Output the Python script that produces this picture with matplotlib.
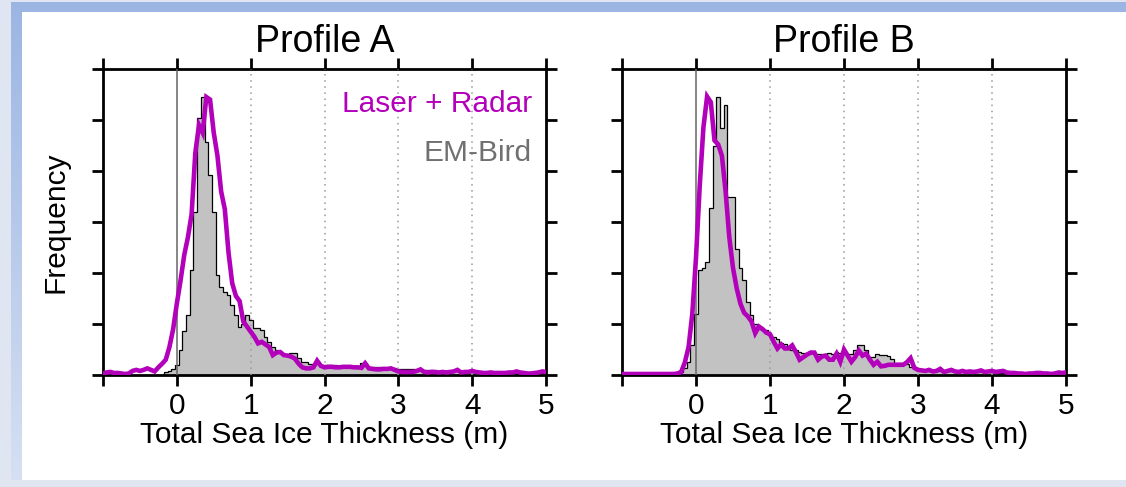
import numpy as np
import matplotlib
matplotlib.use("Agg")
import matplotlib.pyplot as plt
from matplotlib.patches import Rectangle

plt.rcParams['font.family'] = ['Liberation Sans', 'DejaVu Sans']

# bin width (m) used for both the histograms and the line samples
BW = 0.05

# ---- Profile A ----
hist_a_start = -0.15
hist_a = [0.05, 0.08, 0.12, 0.2, 0.49, 0.86, 1.18, 2.06, 3.2, 5.04,
          5.46, 4.57, 3.92, 3.2, 1.96, 1.73, 1.63, 1.56, 1.37, 1.18,
          0.95, 1.0, 1.18, 1.08, 0.92, 0.92, 0.89, 0.75, 0.65, 0.55,
          0.49, 0.45, 0.39, 0.39, 0.43, 0.43, 0.33, 0.26, 0.25, 0.22,
          0.22, 0.22, 0.2, 0.2, 0.2, 0.2, 0.19, 0.18, 0.18, 0.18,
          0.18, 0.18, 0.18, 0.23, 0.23, 0.15, 0.15, 0.15, 0.15, 0.14,
          0.14, 0.14, 0.13, 0.11, 0.11, 0.11, 0.11, 0.11, 0.1, 0.1,
          0.09, 0.09, 0.09, 0.08, 0.08, 0.08, 0.08, 0.07, 0.07, 0.07,
          0.07, 0.06, 0.06, 0.06, 0.06, 0.05, 0.05, 0.05, 0.05, 0.05,
          0.05, 0.04, 0.04, 0.04, 0.04, 0.04, 0.04, 0.03, 0.03, 0.03,
          0.03, 0.03, 0.03, 0.03]

line_a_start = -1.0
line_a = [0.03, 0.05, 0.06, 0.04, 0.04, 0.03, 0.02, 0.03, 0.08, 0.1,
          0.08, 0.1, 0.13, 0.1, 0.07, 0.15, 0.22, 0.3, 0.55, 0.9,
          1.4, 1.85, 2.35, 2.7, 3.15, 4.35, 4.9, 4.75, 5.45, 5.4,
          4.75, 4.3, 3.6, 3.25, 2.4, 1.8, 1.55, 1.45, 1.05, 0.95,
          0.85, 0.75, 0.62, 0.65, 0.6, 0.55, 0.39, 0.44, 0.45, 0.39,
          0.38, 0.36, 0.32, 0.22, 0.15, 0.13, 0.13, 0.15, 0.28, 0.18,
          0.15, 0.16, 0.16, 0.15, 0.15, 0.16, 0.16, 0.16, 0.15, 0.15,
          0.14, 0.23, 0.13, 0.12, 0.11, 0.11, 0.12, 0.12, 0.13, 0.1,
          0.07, 0.06, 0.06, 0.06, 0.06, 0.08, 0.11, 0.06, 0.05, 0.06,
          0.06, 0.05, 0.06, 0.05, 0.06, 0.07, 0.1, 0.05, 0.06, 0.06,
          0.08, 0.06, 0.05, 0.04, 0.04, 0.05, 0.04, 0.04, 0.04, 0.04,
          0.05, 0.05, 0.07, 0.05, 0.04, 0.03, 0.03, 0.04, 0.05, 0.07,
          0.06]

# ---- Profile B ----
hist_b_start = -0.20
hist_b = [0.05, 0.13, 0.26, 0.59, 1.2, 2.06, 2.09, 2.22, 3.27, 4.5,
          5.46, 4.84, 5.29, 3.5, 3.5, 2.48, 2.09, 1.86, 1.44, 1.18,
          1.0, 0.9, 0.88, 0.88, 0.78, 0.75, 0.7, 0.62, 0.6, 0.55,
          0.5, 0.49, 0.45, 0.44, 0.44, 0.44, 0.42, 0.41, 0.42, 0.42,
          0.43, 0.42, 0.45, 0.44, 0.42, 0.42, 0.42, 0.5, 0.59, 0.59,
          0.5, 0.35, 0.35, 0.42, 0.39, 0.39, 0.38, 0.32, 0.23, 0.23,
          0.23, 0.22, 0.16, 0.15, 0.1, 0.09, 0.09, 0.08, 0.08, 0.08,
          0.07, 0.07, 0.07, 0.07, 0.06, 0.06, 0.06, 0.06, 0.06, 0.05,
          0.05, 0.05, 0.05, 0.05, 0.05, 0.04, 0.04, 0.04, 0.04, 0.04,
          0.04, 0.04, 0.03, 0.03, 0.03, 0.03, 0.03, 0.03, 0.03, 0.03,
          0.03, 0.03, 0.03, 0.03, 0.03]

line_b_start = -1.0
line_b = [0.02, 0.02, 0.02, 0.02, 0.02, 0.02, 0.02, 0.02, 0.02, 0.02,
          0.02, 0.02, 0.02, 0.02, 0.02, 0.03, 0.06, 0.25, 0.55, 1.2,
          2.3, 3.7, 4.85, 5.46, 5.35, 4.6, 4.52, 4.3, 3.6, 2.7,
          2.1, 1.7, 1.4, 1.22, 1.15, 1.05, 0.82, 0.95, 0.9, 0.83,
          0.8, 0.65, 0.52, 0.6, 0.52, 0.52, 0.58, 0.45, 0.3, 0.35,
          0.4, 0.44, 0.44, 0.3, 0.36, 0.38, 0.3, 0.3, 0.42, 0.26,
          0.5, 0.38, 0.26, 0.35, 0.48, 0.38, 0.42, 0.3, 0.2, 0.26,
          0.17, 0.18, 0.2, 0.2, 0.2, 0.2, 0.2, 0.25, 0.33, 0.14,
          0.1, 0.09, 0.08, 0.1, 0.07, 0.08, 0.12, 0.06, 0.08, 0.1,
          0.07, 0.06, 0.08, 0.06, 0.07, 0.06, 0.07, 0.09, 0.06, 0.07,
          0.08, 0.06, 0.07, 0.08, 0.05, 0.04, 0.04, 0.03, 0.03, 0.02,
          0.03, 0.03, 0.04, 0.04, 0.03, 0.03, 0.02, 0.03, 0.05, 0.04,
          0.05]

titles = ["Profile A", "Profile B"]
x_ticks = [-1, 0, 1, 2, 3, 4, 5]
x_tick_labels = ["", "0", "1", "2", "3", "4", "5"]
y_ticks = [0, 1, 2, 3, 4, 5, 6]

MAGENTA = "#b300bb"
HIST_GRAY = "#c2c2c2"
FS = 21.5

W, H = 1126, 487
fig = plt.figure(figsize=(W / 100, H / 100), dpi=100)
fig.patch.set_facecolor("#dfe6f1")

# page-like frame behind the charts
bg = fig.add_axes([0, 0, 1, 1], zorder=-10)
bg.set_xlim(0, W)
bg.set_ylim(H, 0)
bg.axis("off")
grad = np.linspace(0, 1, 200).reshape(-1, 1)
top_c = np.array([0.61, 0.71, 0.89])
bot_c = np.array([0.84, 0.88, 0.95])
img = top_c + (bot_c - top_c) * grad[..., None]
bg.imshow(np.repeat(img, 2, axis=1), extent=(11, W, H, 2), aspect="auto")
bg.add_patch(Rectangle((22, 12), W - 22, 468, facecolor="white", edgecolor="none"))
bg.add_patch(Rectangle((0, 480), W, 7, facecolor="#dfe6f2", edgecolor="none"))

positions = [[103 / W, 1 - 375 / H, 443 / W, 306 / H],
             [622 / W, 1 - 375 / H, 444 / W, 306 / H]]
hists = [(hist_a_start, hist_a), (hist_b_start, hist_b)]
lines = [(line_a_start, line_a), (line_b_start, line_b)]

for k in range(2):
    ax = fig.add_axes(positions[k])
    h0, hv = hists[k]
    edges = h0 - BW / 2 + BW * np.arange(len(hv) + 1)
    ax.stairs(hv, edges, fill=True, color=HIST_GRAY, zorder=1)
    ax.stairs(hv, edges, baseline=0, color="black", lw=0.9, zorder=2)

    l0, lv = lines[k]
    lx = l0 + BW * np.arange(len(lv))
    ax.plot(lx, lv, color=MAGENTA, lw=3.3, zorder=4, solid_joinstyle="miter")

    ax.axvline(0, color="#666666", lw=1.1, zorder=3)
    for xv in [1, 2, 3, 4]:
        ax.axvline(xv, color="#999999", lw=1.1, ls=(0, (1, 3)), zorder=3)

    ax.set_xlim(-1, 5)
    ax.set_ylim(0, 6)
    ax.set_xticks(x_ticks)
    ax.set_xticklabels(x_tick_labels)
    ax.set_yticks(y_ticks)
    ax.set_yticklabels([])
    ax.tick_params(axis="both", direction="out", length=8, width=2,
                   labelsize=FS, top=True, right=True, pad=4)
    for s in ax.spines.values():
        s.set_linewidth(2)
    ax.set_xlabel("Total Sea Ice Thickness (m)", fontsize=FS, labelpad=1)
    ax.set_title(titles[k], fontsize=27, pad=12)
    if k == 0:
        ax.set_ylabel("Frequency", fontsize=FS, labelpad=12)
        ax.text(0.968, 0.885, "Laser + Radar", color=MAGENTA, fontsize=FS,
                ha="right", va="center", transform=ax.transAxes)
        ax.text(0.968, 0.725, "EM-Bird", color="#707070", fontsize=FS,
                ha="right", va="center", transform=ax.transAxes)

fig.savefig("out.png", dpi=100, facecolor=fig.get_facecolor())
